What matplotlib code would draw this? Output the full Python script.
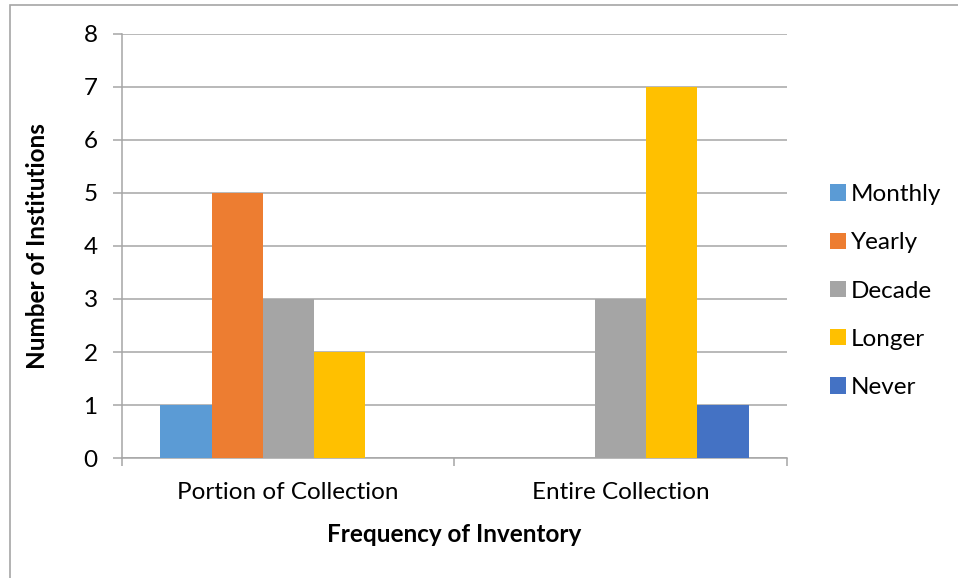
import matplotlib.pyplot as plt
import matplotlib.patches as mpatches
import numpy as np

plt.rcParams['font.family'] = ['Lato', 'DejaVu Sans']

categories = ["Portion of Collection", "Entire Collection"]
series = ["Monthly", "Yearly", "Decade", "Longer", "Never"]
values = {
    "Monthly": [1, 0],
    "Yearly": [5, 0],
    "Decade": [3, 3],
    "Longer": [2, 7],
    "Never": [0, 1],
}
colors = ["#5B9BD5", "#ED7D31", "#A5A5A5", "#FFC000", "#4472C4"]
grid_color = "#A6A6A6"
fs = 17.5

fig = plt.figure(figsize=(9.58, 5.78), dpi=100)
ax = fig.add_axes([0.1273, 0.2076, 0.6942, 0.7336])

# outer chart frame (only left and top edges are inside the image)
fig.patches.append(mpatches.Rectangle((10 / 958, -0.1), 1.2, 1.1 - 5 / 578,
                                      transform=fig.transFigure, fill=False,
                                      edgecolor=grid_color, linewidth=1.2))

x = np.arange(len(categories))
width = 0.1538
for i, (name, c) in enumerate(zip(series, colors)):
    ax.bar(x + (i - 2) * width, values[name], width, color=c, label=name, zorder=3)

ax.set_xlim(-0.5, 1.5)
ax.set_ylim(0, 8)
ax.set_yticks(range(0, 9))
ax.yaxis.grid(True, color=grid_color, linewidth=1.1, zorder=0)

# category boundary ticks on the x axis
ax.set_xticks([-0.5, 0.5, 1.5], minor=False)
ax.set_xticklabels([])
ax.set_xticks(x, minor=True)
ax.set_xticklabels(categories, minor=True, fontsize=fs)
ax.tick_params(axis="x", which="major", length=6, color=grid_color, width=1.1)
ax.tick_params(axis="x", which="minor", length=0, pad=17)
ax.tick_params(axis="y", length=6.5, color=grid_color, width=1.1, labelsize=fs, pad=11)

for side in ["top", "right"]:
    ax.spines[side].set_visible(False)
for side in ["left", "bottom"]:
    ax.spines[side].set_color(grid_color)
    ax.spines[side].set_linewidth(1.1)

ax.set_xlabel("Frequency of Inventory", fontsize=fs, fontweight="bold", labelpad=15)
ax.set_ylabel("Number of Institutions", fontsize=fs, fontweight="bold", labelpad=25)

fig.legend(loc="center left", bbox_to_anchor=(830 / 958, 1 - 291 / 578), frameon=False,
           fontsize=fs, handlelength=0.65, handleheight=0.65, handletextpad=0.2,
           labelspacing=1.12, borderpad=0, borderaxespad=0)

fig.savefig("out.png", dpi=100, facecolor="white")
